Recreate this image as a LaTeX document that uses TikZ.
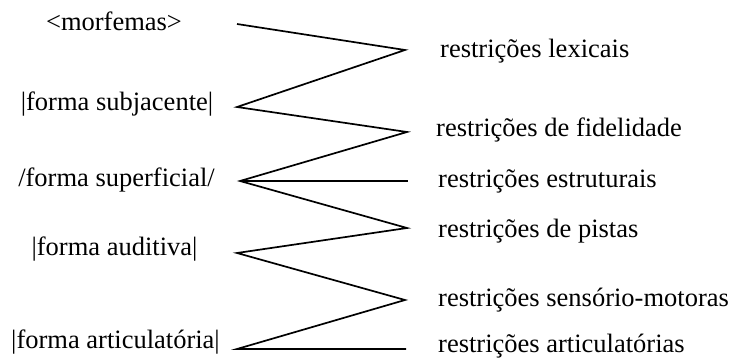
\documentclass[tikz,border=0pt]{standalone}
\usepackage{fontspec}
\setmainfont{Liberation Serif}
\begin{document}
\begin{tikzpicture}[x=1pt,y=-1pt,
  lbl/.style={inner sep=0pt,font=\fontsize{26.5}{31}\selectfont},
  leftlbl/.style={lbl,anchor=base},
  rightlbl/.style={lbl,anchor=base west},
  zig/.style={line width=1.7pt,line join=miter}]
\useasboundingbox (0,0) rectangle (733,358);
% left labels
\node[leftlbl] (m) at (114,31) {<morfemas>};
\node[leftlbl] (fs) at (117,111) {|forma subjacente|};
\node[leftlbl] (fsup) at (116.5,186) {/forma superficial/};
\node[leftlbl] (fa) at (114.5,255) {|forma auditiva|};
\node[leftlbl] (fart) at (115.5,348) {|forma articulatória|};
% right labels
\node[rightlbl] (rl) at (440,58) {restrições lexicais};
\node[rightlbl] (rf) at (436,137) {restrições de fidelidade};
\node[rightlbl] (re) at (438,188) {restrições estruturais};
\node[rightlbl] (rp) at (438,237) {restrições de pistas};
\node[rightlbl] (rs) at (438,306) {restrições sensório-motoras};
\node[rightlbl] (ra) at (438,352) {restrições articulatórias};
% zigzag vertices
\coordinate (L1) at (237,24);
\coordinate (R1) at (405,50);
\coordinate (L2) at (237,107);
\coordinate (R2) at (407,132);
\coordinate (L3) at (240,181);
\coordinate (R3) at (407,228);
\coordinate (L4) at (237,253);
\coordinate (R4) at (405,300);
\coordinate (L5) at (237,349);
\coordinate (E1) at (408,181);
\coordinate (E2) at (406,349);
\draw[zig] (L1) -- (R1) -- (L2) -- (R2) -- (L3) -- (R3) -- (L4) -- (R4) -- (L5) -- (E2);
\draw[zig] (L3) -- (E1);
\end{tikzpicture}
\end{document}
